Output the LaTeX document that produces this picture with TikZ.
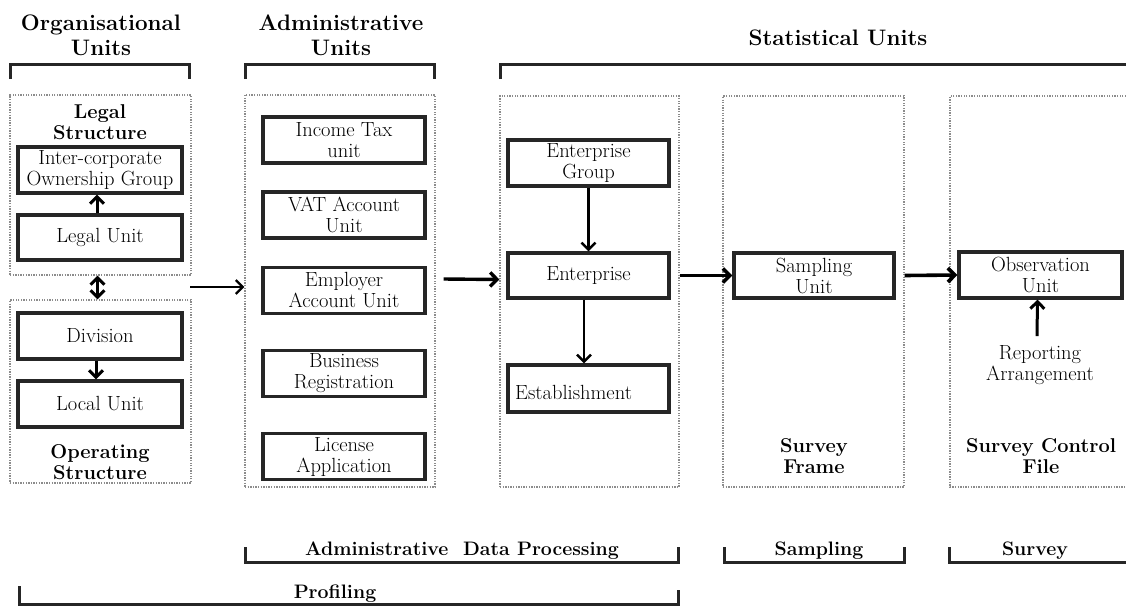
\documentclass[tikz,border=0pt]{standalone}
\usepackage{fontspec}
\usetikzlibrary{arrows.meta}
\begin{document}
\begin{tikzpicture}[x=1pt,y=-1pt,
  box/.style={draw=black!85, line width=3.2pt, minimum width=164pt, minimum height=46pt, inner sep=0pt, align=center, font=\fontsize{20.5}{21}\selectfont},
  area/.style={draw=black!45, line width=1.1pt, dash pattern=on 1.3pt off 1.3pt, inner sep=0pt},
  head/.style={font=\bfseries\fontsize{22.4}{25}\selectfont, align=center, inner sep=0pt},
  lab/.style={font=\bfseries\fontsize{20}{21}\selectfont, align=center, inner sep=0pt},
  foot/.style={font=\bfseries\fontsize{19.5}{21}\selectfont, inner sep=0pt},
  txt/.style={font=\fontsize{20.5}{21}\selectfont, align=center, inner sep=0pt},
  brk/.style={draw=black!85, line width=3pt},
  arr/.style={draw=black, line width=3pt, -{Straight Barb[length=7pt,width=14pt]}},
  darr/.style={draw=black, line width=3pt, {Straight Barb[length=7pt,width=14pt]}-{Straight Barb[length=7pt,width=14pt]}},
]
\useasboundingbox (0,0) rectangle (1126,606);

% headings
\node[head] (orgt) at (101,35) {Organisational\\Units};
\node[head] (admt) at (341,35) {Administrative\\Units};
\node[head] (statt) at (838,38) {Statistical Units};

% top brackets
\draw[brk] (10,79) -- (10,64) -- (189,64) -- (189,79);
\draw[brk] (245,79) -- (245,64) -- (434,64) -- (434,79);
\draw[brk] (500,79) -- (500,64) -- (1126,64);

% dotted areas
\node[area, minimum width=181pt, minimum height=180pt] (legalbox) at (100.5,185) {};
\node[area, minimum width=181pt, minimum height=183pt] (opbox) at (100.5,391.5) {};
\node[area, minimum width=190pt, minimum height=392pt] (adminbox) at (340,291) {};
\node[area, minimum width=179pt, minimum height=391pt] (entbox) at (589.5,291.5) {};
\node[area, minimum width=181pt, minimum height=391pt] (framebox) at (813.5,291.5) {};
\draw[area] (1126,96) -- (950,96) -- (950,487) -- (1126,487);

% organisational units
\node[lab] (legallab) at (100,122) {Legal\\Structure};
\node[box] (icog) at (100,170) {Inter-corporate\\Ownership Group};
\node[box, minimum height=45pt] (legal) at (100,237.5) {Legal Unit};
\node[box] (division) at (100,336) {Division};
\node[box] (local) at (100,404) {Local Unit};
\node[lab] (oplab) at (100,462) {Operating\\Structure};

\draw[arr] ([xshift=-3pt]legal.north) -- ([xshift=-3pt]icog.south);
\draw[darr] ([xshift=-3pt]legalbox.south) -- ([xshift=-3pt]opbox.north);
\draw[arr] ([xshift=-4pt]division.south) -- ([xshift=-4pt]local.north);

% administrative units
\node[box, minimum width=162pt] (income) at (344,140) {Income Tax\\unit};
\node[box, minimum width=162pt] (vat) at (344,215) {VAT Account\\Unit};
\node[box, minimum width=162pt] (employer) at (344,290.5) {Employer\\Account Unit};
\node[box, minimum width=162pt] (business) at (344,373.5) {Business\\Registration};
\node[box, minimum width=162pt] (license) at (344,456.5) {License\\Application};

\coordinate (orgout) at (190,287);
\draw[arr, line width=2.3pt] (orgout) -- (adminbox.west |- orgout);
\draw[arr, line width=3.4pt] ([xshift=8pt,yshift=12pt]adminbox.east) -- ([yshift=12pt]entbox.west);

% statistical units
\node[box, minimum width=161pt] (entgroup) at (588.5,163) {Enterprise\\Group};
\node[box, minimum width=161pt, minimum height=45pt] (enterprise) at (588.5,275.5) {Enterprise};
\node[box, minimum width=161pt, minimum height=47pt] (establishment) at (588.5,388.5) {};
\node[txt, anchor=west] (esttext) at (515,392) {Establishment};

\draw[arr, line width=2.5pt] (entgroup.south) -- (enterprise.north);
\draw[arr, line width=2.5pt] ([xshift=-4.5pt]enterprise.south) -- ([xshift=-4.5pt]establishment.north);

\node[box, minimum width=160pt, minimum height=45pt] (sampling) at (814,275.5) {Sampling\\Unit};
\node[lab] (framelab) at (814,456) {Survey\\Frame};

\node[box, minimum width=163pt] (observation) at (1040.5,275) {Observation\\Unit};
\node[txt] (rep) at (1040,365) {Reporting\\Arrangement};
\node[lab] (controllab) at (1041,456) {Survey Control\\File};

\draw[arr, line width=3.6pt] (entbox.east |- enterprise.east) -- (sampling.west);
\draw[arr, line width=3.6pt] (framebox.east |- sampling.east) -- (observation.west);
\draw[arr] ([xshift=-3pt,yshift=9pt]rep.north) -- ([xshift=-3pt]observation.south);

% bottom brackets
\draw[brk] (245,547) -- (245,562) -- (678,562) -- (678,547);
\node[foot] (adp) at (462,551) {Administrative\ \ Data Processing};
\draw[brk] (724,547) -- (724,562) -- (904,562) -- (904,547);
\node[foot] (samp) at (819,551) {Sampling};
\draw[brk] (949,547) -- (949,562) -- (1126,562);
\node[foot] (surv) at (1035,551) {Survey};
\draw[brk] (19,586) -- (19,604) -- (678,604) -- (678,590);
\node[foot] (prof) at (335,594) {Profiling};
\end{tikzpicture}
\end{document}
